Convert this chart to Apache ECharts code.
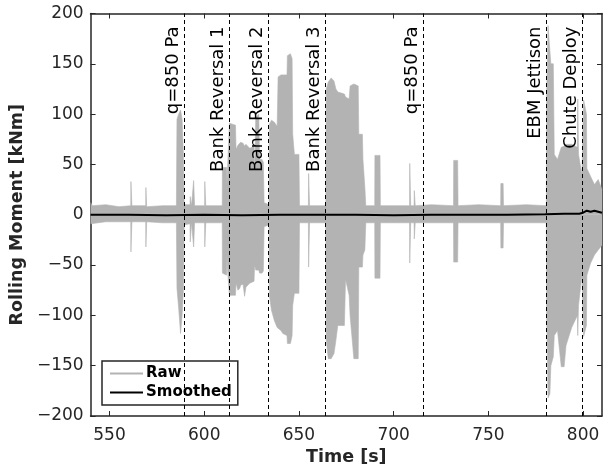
<!DOCTYPE html>
<html>
<head>
<meta charset="utf-8">
<script src="https://cdn.jsdelivr.net/npm/echarts@6/dist/echarts.min.js"></script>
<style>
html,body{margin:0;padding:0;background:#fff;}
#chart{width:609px;height:476px;}
</style>
</head>
<body>
<div id="chart"></div>
<script>
// Raw signal envelope (upper / lower extent of the dense oscillation)
var rawTime  = [540,541,548,555,561.2,561.3,561.7,561.8,569.1,569.2,569.5,569.6,578,585.3,585.6,586.5,587.5,588.3,589,589.4,592.5,592.6,593.2,593.3,594.3,594.4,594.8,594.9,600.2,600.3,600.7,600.8,609.5,
  609.6,611.8,612.0,612.3,613.3,614,616.5,616.8,617.6,617.8,618.8,619.2,620.5,621.3,622,623,624,626.3,626.6,627.2,628.8,629.2,630.5,631.2,631.6,
  634.2,634.4,635.5,637,638.5,639,640.5,641.5,643.7,643.9,645.5,646.4,646.7,647.6,650,650.3,
  655,655.1,655.5,655.6,664.2,664.4,665.5,667,668.5,669.5,670.5,674,674.6,676.5,677,679,681.3,681.6,683.5,683.8,684.8,685.3,690,690.1,692.8,693,
  708.4,708.5,708.9,709,710.8,710.9,711.3,711.4,720,731.6,731.7,733.8,734,745,756.5,756.6,757.8,758,770,780.6,
  780.8,781.5,782.5,783,784.3,784.8,786.5,788.5,790,791,794,797,797.2,797.6,799.4,800.3,801.8,802,804,806,808,810];
var rawUpper = [12,9,10,8,9,33,33,9,9,27,27,8,9,9,95,100,104,95,60,10,10,18,18,9,9,34,34,9,9,33,33,9,9,
  47,47,30,45,91,90,89,65,66,69,68,72,71,68,70,68,66,68,40,97,100,55,55,52,12,
  10,90,94,92,88,137,139,140,139,158,160,155,80,60,60,9,
  9,41,41,9,9,125,132,136,133,125,122,120,117,115,128,130,128,80,80,55,27,9,9,59,59,9,
  9,51,51,9,9,24,24,9,10,9,54,54,9,10,9,31,31,9,10,9,
  120,188,188,150,150,60,55,67,68,70,70,67,115,60,40,114,100,46,38,30,35,25];
var rawLower = [-9,-8,-7,-7,-7,-37,-37,-7,-7,-32,-32,-7,-8,-8,-73,-93,-118,-100,-75,-10,-9,-27,-27,-8,-8,-32,-32,-8,-8,-32,-32,-8,-8,
  -58,-60,-40,-55,-80,-81,-80,-68,-69,-75,-73,-70,-69,-81,-72,-70,-68,-66,-50,-55,-55,-58,-58,-56,-12,
  -10,-80,-95,-105,-112,-112,-115,-118,-120,-128,-128,-120,-90,-78,-78,-8,
  -8,-52,-52,-8,-8,-124,-143,-143,-138,-125,-110,-110,-64,-80,-100,-143,-143,-52,-52,-40,-35,-8,-8,-63,-63,-8,
  -8,-48,-48,-8,-8,-24,-24,-8,-8,-8,-47,-47,-8,-8,-8,-33,-33,-8,-8,-8,
  -100,-182,-178,-150,-141,-120,-115,-151,-151,-130,-112,-100,-120,-90,-60,-121,-110,-60,-48,-40,-35,-30];

// Smoothed signal
var smoothTime  = [540,560,580,600,620,640,660,680,700,720,740,760,780,790,798,800,802,804,806,808,810];
var smoothValue = [0,0,-0.5,0,-0.5,0,0,0,-0.5,0,0,0,0.5,1,1,2,4,3,4,3,2];

// Event markers
var eventTime  = [589.6,613,634,664,715.5,780.4,799.6];
var eventLabel = ['q=850 Pa','Bank Reversal 1','Bank Reversal 2','Bank Reversal 3','q=850 Pa','EBM Jettison','Chute Deploy'];

// Axis ticks
var xRange = [540, 810];
var xTickValues = [550,600,650,700,750,800];
var yRange = [-200, 200];
var yInterval = 50;

var GRAY = '#b3b3b3';
var AX = '#262626';
var FONT = 'DejaVu Sans';

var upperData = rawTime.map(function(t,i){return [t, rawUpper[i]];});
var lowerData = rawTime.map(function(t,i){return [t, rawLower[i]];});
var smoothData = smoothTime.map(function(t,i){return [t, smoothValue[i]];});
var markData = eventTime.map(function(t,i){return {xAxis:t, name:eventLabel[i]};});

var chart = echarts.init(document.getElementById('chart'), null, {renderer:'canvas'});
function xAx(pos, showLabel){
  return {type:'value', min:xRange[0], max:xRange[1], position:pos,
    axisLine:{show:true, onZero:false, lineStyle:{color:AX, width:1.5}},
    axisTick:{show:true, inside:true, length:5, customValues:xTickValues, lineStyle:{color:AX, width:1}},
    axisLabel:{show:showLabel, customValues:xTickValues, color:AX, fontSize:17, fontFamily:FONT, margin:11},
    splitLine:{show:false}};
}
function yAx(pos, showLabel){
  return {type:'value', min:yRange[0], max:yRange[1], interval:yInterval, position:pos,
    axisLine:{show:true, onZero:false, lineStyle:{color:AX, width:1.5}},
    axisTick:{show:true, inside:true, length:5, lineStyle:{color:AX, width:1}},
    axisLabel:{show:showLabel, color:AX, fontSize:17, fontFamily:FONT, margin:7,
      formatter:function(v){ return v < 0 ? '\u2212' + Math.abs(v) : String(v); }},
    splitLine:{show:false}};
}
var xb = xAx('bottom', true);
xb.name = 'Time [s]'; xb.nameLocation = 'middle'; xb.nameGap = 21;
xb.nameTextStyle = {color:AX, fontSize:17.5, fontWeight:'bold', fontFamily:FONT};
var yl = yAx('left', true);
yl.name = 'Rolling Moment [kNm]'; yl.nameLocation = 'middle'; yl.nameGap = 47;
yl.nameTextStyle = {color:AX, fontSize:17.5, fontWeight:'bold', fontFamily:FONT};

chart.setOption({
  animation:false,
  backgroundColor:'#fff',
  grid:{left:90, right:7, top:13.5, bottom:60, containLabel:false},
  xAxis:[xb, xAx('top', false)],
  yAxis:[yl, yAx('right', false)],
  legend:{
    show:true, orient:'vertical', left:102, top:361,
    padding:[5,6,5,8], itemGap:4, itemWidth:33, itemHeight:2,
    borderColor:AX, borderWidth:1.5, backgroundColor:'#fff',
    textStyle:{color:'#000', fontSize:15, fontWeight:'bold', fontFamily:FONT, padding:[0,0,0,-2]},
    data:[{name:'Raw', icon:'rect', itemStyle:{color:GRAY}}, {name:'Smoothed', icon:'rect', itemStyle:{color:'#000'}}]
  },
  series:[
    {name:'Raw', type:'line', data:upperData, symbol:'none', color:GRAY,
     lineStyle:{color:GRAY, width:0.6}, areaStyle:{color:GRAY, opacity:1}, z:1},
    {name:'Raw', type:'line', data:lowerData, symbol:'none', color:GRAY,
     lineStyle:{color:GRAY, width:0.6}, areaStyle:{color:GRAY, opacity:1}, z:1},
    {name:'Smoothed', type:'line', data:smoothData, symbol:'none', color:'#000',
     lineStyle:{color:'#000', width:2}, z:3,
     markLine:{silent:true, symbol:['none','none'], animation:false,
       lineStyle:{color:'#000', width:1, type:[4,3]},
       label:{show:true, position:'insideEndTop', formatter:'{b}', color:'#000',
         fontSize:18, fontFamily:FONT, distance:[13,2]},
       data:markData}}
  ]
});
</script>
</body>
</html>
